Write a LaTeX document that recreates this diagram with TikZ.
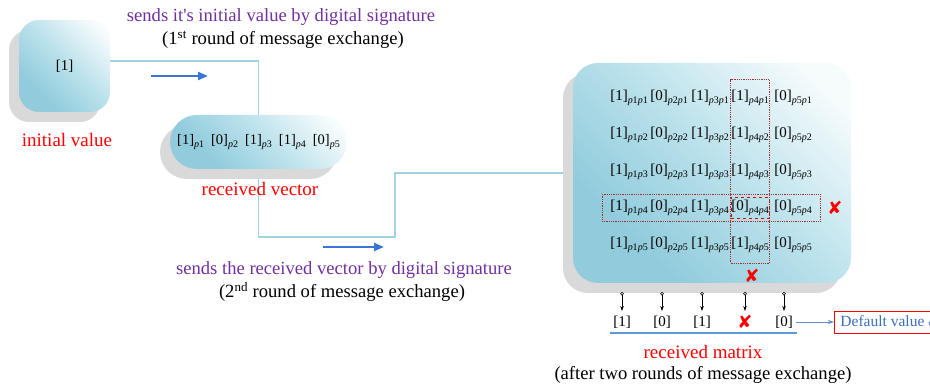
\documentclass[tikz,border=0pt]{standalone}
\usepackage{fontspec}
\setmainfont{Liberation Serif}
\newfontfamily\plainserif{Liberation Serif}
\newfontfamily\symfont{DejaVu Sans}
\usetikzlibrary{arrows.meta,shadows,fit}

\definecolor{tealdark}{RGB}{146,204,220}
\definecolor{tealmid}{RGB}{186,225,235}
\definecolor{teallight}{RGB}{246,251,252}
\definecolor{shadowgray}{RGB}{217,217,217}
\definecolor{connblue}{RGB}{160,212,228}
\definecolor{arrowblue}{RGB}{58,118,210}
\definecolor{titlepurple}{RGB}{112,48,160}
\definecolor{dotred}{RGB}{160,50,50}
\definecolor{lineblue}{RGB}{91,155,213}
\definecolor{dvblue}{RGB}{60,110,190}

% teal fill that brightens towards one corner
\pgfdeclareverticalshading{cardshade}{100bp}{color(0bp)=(tealdark); color(30bp)=(tealdark);
  color(52bp)=(tealmid); color(78bp)=(teallight); color(100bp)=(teallight)}

% bracketed value with a small lowered subscript
\newcommand\pe[2]{[#1]\raisebox{-0.5ex}{\fontsize{10}{10}\selectfont #2}}
\newcommand\pp[1]{\textit{p}#1}

\tikzset{
  card/.style={draw=none, shading=cardshade, shading angle=-45,
    drop shadow={shadow xshift=-10pt, shadow yshift=-10pt, opacity=1, fill=shadowgray}},
  conn/.style={connblue, line width=1.3pt},
  flow/.style={arrowblue, line width=2.2pt, -{Triangle[length=10pt,width=8pt]}},
  title/.style={text=titlepurple, font=\fontsize{18.6}{20}\selectfont},
  subtitle/.style={font=\fontsize{18.6}{20}\selectfont},
  caption/.style={text=red, font=\fontsize{19}{20}\selectfont},
  entry/.style={inner sep=0pt, font=\fontsize{15}{16}\selectfont},
  xmark/.style={text=red, inner sep=0pt, font=\symfont\fontsize{18}{18}\selectfont},
  dotbox/.style={draw=dotred, densely dotted, line width=0.8pt, inner sep=0pt},
  dashbox/.style={draw=red!85!black, dashed, line width=0.9pt, inner sep=0pt},
  pinline/.style={black, line width=0.6pt, {Circle[open,length=3.5pt,width=3.5pt]}-{Stealth[length=5pt,width=3.5pt]}},
}

\begin{document}
\begin{tikzpicture}[x=1pt, y=-1pt]
\useasboundingbox (0,0) rectangle (930,387);

% titles of the two rounds
\node[title] (t1) at (281,17) {sends it{\plainserif'}s initial value by digital signature};
\node[subtitle] (t1b) at (283,40) {(1\textsuperscript{st} round of message exchange)};
\node[title] (t2) at (344,270) {sends the received vector by digital signature};
\node[subtitle] (t2b) at (342,292) {(2\textsuperscript{nd} round of message exchange)};

% links between the stages
\coordinate (c1) at (395,237);
\node[minimum width=91pt, minimum height=92pt, inner sep=0pt] (init0) at (64.5,66) {};
\node[minimum width=177pt, minimum height=54pt, inner sep=0pt] (vec0) at (258.5,142) {};
\node[minimum width=278pt, minimum height=220pt, inner sep=0pt] (mat0) at (712,173) {};
\draw[conn] ([yshift=5pt]init0.east) -| (vec0.north);
\draw[conn] (vec0.south) |- (c1) |- (mat0.west);

% stage boxes
\node[card, rounded corners=20pt, minimum width=91pt, minimum height=92pt, inner sep=0pt,
  font=\fontsize{15}{16}\selectfont] (init) at (64.5,66) {[1]};
\node[card, rounded corners=27pt, minimum width=177pt, minimum height=54pt, inner sep=0pt,
  font=\fontsize{14.5}{16}\selectfont] (vec) at (258.5,142)
  {\pe{1}{\pp1}\hspace{7pt}\pe{0}{\pp2}\hspace{7pt}\pe{1}{\pp3}\hspace{7pt}\pe{1}{\pp4}\hspace{7pt}\pe{0}{\pp5}};
\node[card, rounded corners=25pt, minimum width=278pt, minimum height=220pt, inner sep=0pt] (mat) at (712,173) {};

\node[caption] (capi) at (67,140) {initial value};
\node[caption] (capv) at (260,189) {received vector};

% direction arrows
\coordinate (a1s) at (151,76);
\coordinate (a1e) at (208,76);
\coordinate (a2s) at (323,247);
\coordinate (a2e) at (384,247);
\draw[flow] (a1s) -- (a1e);
\draw[flow] (a2s) -- (a2e);

% received matrix entries
\foreach \r/\ry in {1/98,2/135,3/172,4/208,5/245}{
  \foreach \c/\cx/\v in {1/629/1,2/669/0,3/710/1,4/750/1,5/793/0}{
    \pgfmathtruncatemacro\val{(\r==4 && \c==4) ? 0 : \v}
    \node[entry] (m\r\c) at (\cx,\ry) {\pe{\val}{\pp{\c}\pp{\r}}};
  }
}
\node[dotbox, fit=(m14)(m54), inner xsep=0.5pt, inner ysep=10pt] (colbox) {};
\node[dotbox, fit=(m41)(m45), inner xsep=8pt, inner ysep=5.5pt] (rowbox) {};
\node[dashbox, fit=(m44), inner xsep=0pt, inner ysep=2.5pt] (cellbox) {};
\node[xmark] (xr) at (835,208) {✘};
\node[xmark] (xc) at (752,276) {✘};

% majority vote row
\foreach \i/\x/\t in {1/622/{[1]},2/662/{[0]},3/702/{[1]},5/784/{[0]}}{
  \node[entry] (r\i) at (\x,322) {\t};
}
\node[xmark] (r4) at (745,322) {✘};
\foreach \i/\x in {1/622,2/662,3/702,4/745,5/784}{
  \coordinate (q\i) at (\x,292);
  \draw[pinline] (q\i) -- (\x,311);
}
\draw[lineblue, line width=1.4pt] (610,333) -- (797,333);

\node[draw=red, line width=0.9pt, fill=white, text=dvblue, anchor=west, inner xsep=6pt,
  minimum height=22pt, font=\fontsize{15.5}{17}\selectfont] (dv) at (834,322) {Default value $\phi$};
\draw[dvblue!80, line width=0.8pt, -{Stealth[length=6pt,width=4pt]}] ([xshift=3pt]r5.east) -- (dv.west);

\node[caption] (capm) at (703,352) {received matrix};
\node[subtitle] (capm2) at (703,375) {(after two rounds of message exchange)};
\end{tikzpicture}
\end{document}
